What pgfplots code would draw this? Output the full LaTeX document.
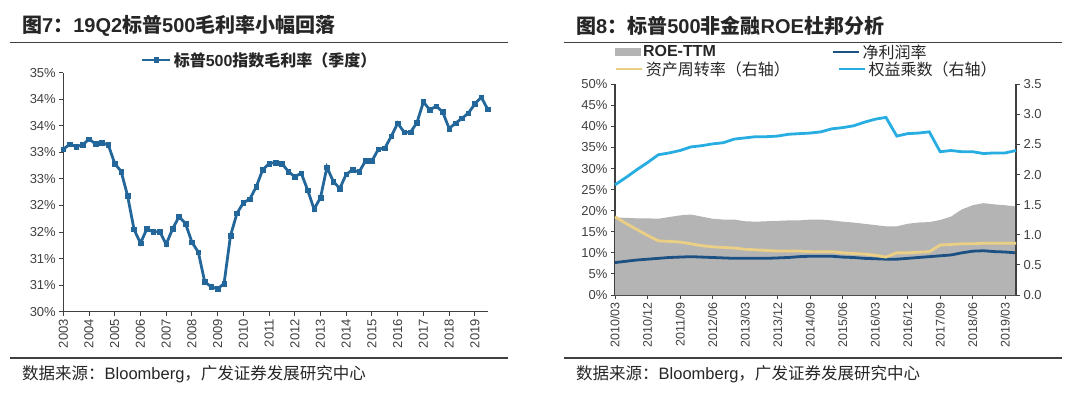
\documentclass[border=0pt]{standalone}
\usepackage{pgfplots}
\pgfplotsset{compat=1.18}
\usepackage{fontspec}
\setmainfont{Liberation Sans}
\newfontfamily\cjk{Noto Sans CJK SC}
\definecolor{mainblue}{HTML}{23679A}
\definecolor{darkblue}{HTML}{1D5183}
\definecolor{lightblue}{HTML}{27ADE1}
\definecolor{gold}{HTML}{EBCF85}
\definecolor{areagray}{HTML}{B4B4B4}
\definecolor{axisgray}{HTML}{404040}
\definecolor{txt}{HTML}{262626}

\pgfplotsset{
  base/.style={
    scale only axis,
    clip=false,
    axis line style={draw=axisgray, line width=1.2bp},
    tick style={draw=axisgray, line width=1bp},
    major tick length=4bp,
    tick align=outside,
    ticklabel style={font=\fontsize{13bp}{15bp}\selectfont, text=axisgray},
    legend cell align=left,
  },
}

\begin{document}
\begin{tikzpicture}[x=1bp,y=1bp]
\path[use as bounding box] (0,0) rectangle (1080,396);
% titles
\node[anchor=west, inner sep=0, text=txt] at (22,370)
  {\fontsize{20bp}{24bp}\selectfont\bfseries{\cjk 图}7{\cjk ：}19Q2{\cjk 标普}500{\cjk 毛利率小幅回落}};
\node[anchor=west, inner sep=0, text=txt] at (576,370)
  {\fontsize{20bp}{24bp}\selectfont\bfseries{\cjk 图}8{\cjk ：标普}500{\cjk 非金融}ROE{\cjk 杜邦分析}};
\draw[axisgray, line width=1.3bp] (10,353.5) -- (508,353.5);
\draw[axisgray, line width=1.3bp] (564,353.5) -- (1062,353.5);
\draw[axisgray, line width=1.3bp] (10,38) -- (508,38);
\draw[axisgray, line width=1.3bp] (564,38) -- (1062,38);
\node[anchor=west, inner sep=0, text=txt] at (22,22)
  {\fontsize{16.5bp}{20bp}\selectfont{\cjk 数据来源：}Bloomberg{\cjk ，广发证券发展研究中心}};
\node[anchor=west, inner sep=0, text=txt] at (576,22)
  {\fontsize{16.5bp}{20bp}\selectfont{\cjk 数据来源：}Bloomberg{\cjk ，广发证券发展研究中心}};

% ---------------- left chart
\begin{axis}[base,
  at={(63.3bp,84.3bp)}, anchor=south west,
  width=424.4bp, height=239bp,
  xmin=0, xmax=66, ymin=30, ymax=34.5,
  axis x line*=bottom, axis y line*=left,
  xtick={0,4,8,12,16,20,24,28,32,36,40,44,48,52,56,60,64},
  xticklabels={2003,2004,2005,2006,2007,2008,2009,2010,2011,2012,2013,2014,2015,2016,2017,2018,2019},
  xticklabel style={rotate=90, anchor=east},
  ytick={30,30.5,31,31.5,32,32.5,33,33.5,34,34.5},
  yticklabels={30\%,31\%,31\%,32\%,32\%,33\%,33\%,34\%,34\%,35\%},
  legend image code/.code={\draw[mark repeat=2,mark phase=2,#1] plot coordinates {(0bp,0bp) (14bp,0bp) (28bp,0bp)};},
  legend style={draw=none, fill=none, inner sep=0pt, outer sep=0pt,
    font=\fontsize{16bp}{18bp}\selectfont\bfseries, text=txt,
    at={(0.183,1.053)}, anchor=west},
]
\addplot[mainblue, line width=2.8bp, mark=square*, mark size=2.3bp, mark options={line width=0.5bp}] coordinates {
(0,33.06) (1,33.15) (2,33.11) (3,33.14) (4,33.25) (5,33.16) (6,33.18) (7,33.14)
(8,32.79) (9,32.64) (10,32.18) (11,31.55) (12,31.29) (13,31.56) (14,31.50) (15,31.51)
(16,31.27) (17,31.56) (18,31.79) (19,31.66) (20,31.31) (21,31.12) (22,30.56) (23,30.47)
(24,30.43) (25,30.53) (26,31.43) (27,31.85) (28,32.05) (29,32.12) (30,32.35) (31,32.67)
(32,32.79) (33,32.81) (34,32.79) (35,32.64) (36,32.54) (37,32.61) (38,32.29) (39,31.93)
(40,32.15) (41,32.72) (42,32.45) (43,32.32) (44,32.59) (45,32.67) (46,32.63) (47,32.84)
(48,32.84) (49,33.06) (50,33.08) (51,33.30) (52,33.55) (53,33.38) (54,33.38) (55,33.56)
(56,33.95) (57,33.80) (58,33.87) (59,33.76) (60,33.45) (61,33.55) (62,33.64) (63,33.74)
(64,33.91) (65,34.04) (66,33.81)
};
\addlegendentry{{\cjk 标普}500{\cjk 指数毛利率（季度）}}
\end{axis}

% ---------------- right chart, left axis
\begin{axis}[base,
  at={(615bp,101bp)}, anchor=south west,
  width=401bp, height=210.7bp,
  xmin=0, xmax=37, ymin=0, ymax=50,
  axis x line*=bottom, axis y line*=left,
  xtick={0,3,6,9,12,15,18,21,24,27,30,33,36},
  xticklabels={2010/03,2010/12,2011/09,2012/06,2013/03,2013/12,2014/09,2015/06,2016/03,2016/12,2017/09,2018/06,2019/03},
  xticklabel style={rotate=90, anchor=east, font=\fontsize{12.5bp}{15bp}\selectfont},
  ytick={0,5,10,15,20,25,30,35,40,45,50},
  yticklabels={0\%,5\%,10\%,15\%,20\%,25\%,30\%,35\%,40\%,45\%,50\%},
  legend columns=2,
  legend image code/.code={\draw[#1] (0bp,0bp) -- (26bp,0bp);},
  legend style={draw=none, fill=none, inner sep=0pt, outer sep=0pt,
    font=\fontsize{16bp}{18bp}\selectfont, text=txt,
    at={(0,1.153)}, anchor=west, column sep=0pt,
    /tikz/column 2/.style={column sep=114bp}},
]
\addplot[fill=areagray, draw=none, legend image code/.code={\fill[areagray] (0bp,-4bp) rectangle (26bp,4bp);}] coordinates {
(0,18.4) (1,18.3) (2,18.2) (3,18.2) (4,18.1) (5,18.5) (6,18.9) (7,19.1) (8,18.6) (9,18.1)
(10,17.9) (11,17.9) (12,17.5) (13,17.4) (14,17.5) (15,17.6) (16,17.7) (17,17.7) (18,17.9) (19,17.9)
(20,17.7) (21,17.4) (22,17.2) (23,16.9) (24,16.6) (25,16.3) (26,16.3) (27,16.9) (28,17.2) (29,17.3)
(30,17.8) (31,18.6) (32,20.3) (33,21.3) (34,21.8) (35,21.5) (36,21.3) (37,21.0)
} \closedcycle;
\addlegendentry{\textbf{ROE-TTM}}
\addplot[darkblue, line width=2.8bp] coordinates {
(0,7.7) (1,8.0) (2,8.3) (3,8.5) (4,8.7) (5,8.9) (6,9.0) (7,9.1) (8,9.0) (9,8.9)
(10,8.8) (11,8.7) (12,8.7) (13,8.7) (14,8.7) (15,8.8) (16,8.9) (17,9.1) (18,9.2) (19,9.2)
(20,9.2) (21,9.0) (22,8.9) (23,8.7) (24,8.6) (25,8.5) (26,8.5) (27,8.7) (28,8.9) (29,9.1)
(30,9.3) (31,9.5) (32,10.0) (33,10.4) (34,10.5) (35,10.3) (36,10.2) (37,10.0)
};
\addlegendentry{{\cjk 净利润率}}
\end{axis}

% ---------------- right chart, right axis
\begin{axis}[base,
  at={(615bp,101bp)}, anchor=south west,
  width=401bp, height=210.7bp,
  xmin=0, xmax=37, ymin=0, ymax=3.5,
  axis x line=none, axis y line*=right,
  ytick={0,0.5,1,1.5,2,2.5,3,3.5},
  yticklabels={0.0,0.5,1.0,1.5,2.0,2.5,3.0,3.5},
  legend columns=2,
  legend image code/.code={\draw[#1] (0bp,0bp) -- (26bp,0bp);},
  legend style={draw=none, fill=none, inner sep=0pt, outer sep=0pt,
    font=\fontsize{16bp}{18bp}\selectfont, text=txt,
    at={(0,1.0726)}, anchor=west, column sep=0pt,
    /tikz/column 2/.style={column sep=46bp}},
]
\addplot[gold, line width=2.8bp] coordinates {
(0,1.30) (1,1.19) (2,1.09) (3,0.99) (4,0.90) (5,0.89) (6,0.88) (7,0.85) (8,0.82) (9,0.80)
(10,0.79) (11,0.78) (12,0.76) (13,0.75) (14,0.74) (15,0.73) (16,0.73) (17,0.73) (18,0.72) (19,0.72)
(20,0.72) (21,0.70) (22,0.69) (23,0.68) (24,0.66) (25,0.63) (26,0.70) (27,0.70) (28,0.71) (29,0.72)
(30,0.83) (31,0.84) (32,0.85) (33,0.85) (34,0.86) (35,0.86) (36,0.86) (37,0.86)
};
\addlegendentry{{\cjk 资产周转率（右轴）}}
\addplot[lightblue, line width=2.8bp] coordinates {
(0,1.83) (1,1.95) (2,2.08) (3,2.20) (4,2.33) (5,2.36) (6,2.40) (7,2.46) (8,2.48) (9,2.51)
(10,2.53) (11,2.59) (12,2.61) (13,2.63) (14,2.63) (15,2.64) (16,2.67) (17,2.68) (18,2.69) (19,2.71)
(20,2.76) (21,2.78) (22,2.81) (23,2.87) (24,2.92) (25,2.95) (26,2.64) (27,2.68) (28,2.69) (29,2.71)
(30,2.38) (31,2.40) (32,2.38) (33,2.38) (34,2.35) (35,2.36) (36,2.36) (37,2.40)
};
\addlegendentry{{\cjk 权益乘数（右轴）}}
\end{axis}
\end{tikzpicture}
\end{document}
